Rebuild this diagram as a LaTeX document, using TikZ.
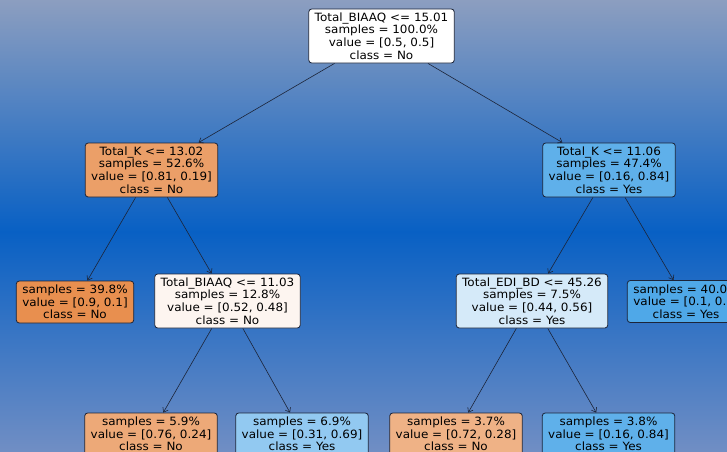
\documentclass[tikz,border=0pt]{standalone}
\usepackage{fontspec}
\setmainfont{DejaVu Sans}[FakeStretch=1.05]
\usetikzlibrary{arrows.meta}
\definecolor{bgtop}{RGB}{140,158,192}
\definecolor{bgmid}{RGB}{8,96,196}
\definecolor{bgbot}{RGB}{112,142,196}
\definecolor{linecol}{RGB}{28,36,56}
\definecolor{no90}{RGB}{232,143,79}
\definecolor{no81}{RGB}{235,159,104}
\definecolor{no76}{RGB}{237,169,120}
\definecolor{no72}{RGB}{239,178,134}
\definecolor{no52}{RGB}{253,245,240}
\definecolor{yes56}{RGB}{213,234,249}
\definecolor{yes69}{RGB}{146,201,241}
\definecolor{yes84}{RGB}{95,176,234}
\definecolor{yes90}{RGB}{79,168,232}
\tikzset{
split/.style={draw=linecol, line width=0.8pt, rounded corners=3pt, align=center,
  inner xsep=6pt, inner ysep=2pt, minimum height=54pt}, % inner nodes of the tree
leaf/.style={split, minimum height=42pt}, % leaves have no test line
branch/.style={-{Straight Barb[length=4pt,width=6pt]}, draw=linecol, line width=0.6pt}, % arrows from parent to child
}

\begin{document}
\begin{tikzpicture}[x=1pt, y=1pt, font=\fontsize{11.4}{12.6}\selectfont]
    \useasboundingbox (0,0) rectangle (727,-451);
    \clip (0,0) rectangle (727,-451);
    \shade[top color=bgtop, bottom color=bgmid] (0,0) rectangle (727,-232);
    \shade[top color=bgmid, bottom color=bgbot] (0,-231) rectangle (727,-451);

    \node[split, fill=white] (n0) at (381.5,-36) {Total\_BIAAQ <= 15.01\\samples = 100.0\%\\value = [0.5, 0.5]\\class = No};
    \node[split, fill=no81] (n1) at (151.5,-170) {Total\_K <= 13.02\\samples = 52.6\%\\value = [0.81, 0.19]\\class = No};
    \node[split, fill=yes84] (n2) at (609,-170) {Total\_K <= 11.06\\samples = 47.4\%\\value = [0.16, 0.84]\\class = Yes};
    \node[leaf, fill=no90] (n3) at (75,-302) {samples = 39.8\%\\value = [0.9, 0.1]\\class = No};
    \node[split, fill=no52] (n4) at (227.5,-301) {Total\_BIAAQ <= 11.03\\samples = 12.8\%\\value = [0.52, 0.48]\\class = No};
    \node[split, fill=yes56] (n5) at (532,-301) {Total\_EDI\_BD <= 45.26\\samples = 7.5\%\\value = [0.44, 0.56]\\class = Yes};
    \node[leaf, fill=yes90] (n6) at (686,-301.5) {samples = 40.0\%\\value = [0.1, 0.9]\\class = Yes};
    \node[leaf, fill=no76] (n7) at (151,-434) {samples = 5.9\%\\value = [0.76, 0.24]\\class = No};
    \node[leaf, fill=yes69] (n8) at (302,-434) {samples = 6.9\%\\value = [0.31, 0.69]\\class = Yes};
    \node[leaf, fill=no72] (n9) at (456,-434) {samples = 3.7\%\\value = [0.72, 0.28]\\class = No};
    \node[leaf, fill=yes84] (n10) at (608.5,-434) {samples = 3.8\%\\value = [0.16, 0.84]\\class = Yes};

    \path[branch]
    (n0) edge (n1)
    (n0) edge (n2)
    (n1) edge (n3)
    (n1) edge (n4)
    (n2) edge (n5)
    (n2) edge (n6)
    (n4) edge (n7)
    (n4) edge (n8)
    (n5) edge (n9)
    (n5) edge (n10);
\end{tikzpicture}
\end{document}
